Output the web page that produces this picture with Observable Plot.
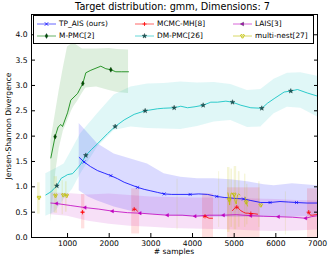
<!DOCTYPE html>
<html><head><meta charset="utf-8">
<script src="https://cdn.jsdelivr.net/npm/d3@7"></script>
<script src="https://cdn.jsdelivr.net/npm/@observablehq/plot@0.6"></script>
<style>
body{margin:0;background:#fff;}
#wrap{position:relative;width:332px;height:263px;font-family:"DejaVu Sans",sans-serif;color:#000;overflow:hidden;}
#wrap svg{position:absolute;left:0;top:0;}
.t{position:absolute;white-space:nowrap;}
#title{left:0;width:345px;text-align:center;top:1px;font-size:9.7px;}
#xlab{left:30px;width:288px;text-align:center;top:247px;font-size:7.6px;}
#ylab{left:8px;top:126px;font-size:7.6px;transform:translate(-50%,-50%) rotate(-90deg);}
#legend{position:absolute;left:33px;top:15px;width:279px;height:27px;border:1px solid #000;background:#fff;}
.le{position:absolute;font-size:7.4px;line-height:8px;}
</style></head><body><div id="wrap"></div>
<script>
// ---------------- data ----------------
const xTicks = [1000, 2000, 3000, 4000, 5000, 6000, 7000];
const yTicks = [0, 0.5, 1.0, 1.5, 2.0, 2.5, 3.0, 3.5, 4.0];

// TP_AIS (ours)
const tpX = [1280, 1398, 1550, 1720, 1880, 2040, 2200, 2360, 2520, 2680, 2840, 3000, 3160, 3319, 3500, 3700, 3943, 4150, 4360, 4583, 4760, 4900, 5050, 5224, 5400, 5639, 5862, 6100, 6300, 6496, 6750, 7000];
const tpY = [1.58, 1.49, 1.40, 1.32, 1.27, 1.22, 1.16, 1.09, 1.04, 0.99, 0.95, 0.92, 0.89, 0.86, 0.85, 0.85, 0.85, 0.86, 0.85, 0.81, 0.79, 0.78, 0.77, 0.76, 0.73, 0.69, 0.69, 0.71, 0.70, 0.69, 0.68, 0.68];
const tpMkX = [1398, 2040, 2680, 3319, 3943, 4583, 5224, 5862, 6496];
const tpMkY = [1.49, 1.22, 0.99, 0.86, 0.85, 0.81, 0.76, 0.69, 0.69];
const tpBandX = [1280, 1500, 1720, 2120, 2520, 2920, 3319, 3720, 4120, 4520, 4920, 5320, 5720, 5960, 6400, 7000];
const tpBandLo = [0.92, 0.80, 0.72, 0.60, 0.52, 0.46, 0.44, 0.42, 0.40, 0.40, 0.40, 0.40, 0.40, 0.40, 0.40, 0.42];
const tpBandHi = [2.25, 2.05, 1.85, 1.65, 1.55, 1.45, 1.26, 1.19, 1.16, 1.16, 1.14, 1.10, 1.04, 1.02, 1.06, 1.02];

// M-PMC[2]
const mpX = [599, 702, 774, 839, 880, 1000, 1079, 1240, 1367, 1439, 1559, 1799, 1919, 2039, 2159, 2300, 2464];
const mpY = [1.57, 1.99, 2.18, 2.23, 2.19, 2.46, 2.71, 2.84, 3.04, 3.25, 3.30, 3.38, 3.33, 3.31, 3.27, 3.27, 3.27];
const mpMkX = [702, 1367, 2039];
const mpMkY = [1.99, 3.04, 3.31];
const mpBandX = [599, 660, 720, 800, 900, 1000, 1100, 1150, 1250, 1360, 1440, 1700, 2000, 2200, 2464];
const mpBandLo = [0.30, 0.80, 1.30, 1.75, 2.10, 2.30, 2.50, 2.58, 2.70, 2.85, 2.95, 2.97, 2.90, 2.86, 2.84];
const mpBandHi = [1.90, 2.20, 2.50, 2.90, 3.35, 3.76, 3.82, 3.84, 3.78, 3.72, 3.72, 3.72, 3.73, 3.71, 3.70];

// MCMC-MH[8]
const mhSeg = [0, 0, 1, 1, 1, 1, 2, 2, 2, 2, 2, 3, 3, 3, 3, 3, 3, 3, 3, 3, 3, 3, 4, 4, 4, 4, 4, 4];
const mhX = [1330, 1390, 2560, 2600, 2640, 2680, 4263, 4300, 4340, 4400, 4480, 4960, 5000, 5063, 5110, 5159, 5220, 5279, 5340, 5399, 5480, 5560, 6760, 6790, 6830, 6880, 6950, 7000];
const mhY = [0.50, 0.50, 0.53, 0.56, 0.55, 0.52, 0.40, 0.42, 0.40, 0.38, 0.38, 0.53, 0.57, 0.60, 0.57, 0.53, 0.50, 0.48, 0.48, 0.47, 0.47, 0.46, 0.48, 0.50, 0.44, 0.44, 0.45, 0.46];
const mhMkX = [1360, 2600, 4300, 5063, 5400, 6790];
const mhMkY = [0.50, 0.56, 0.42, 0.60, 0.47, 0.50];
const mhBandX1 = [1336, 2540, 4240, 4840, 6760];
const mhBandX2 = [1415, 2730, 4504, 5623, 7000];
const mhBandLo = [0.17, 0.07, 0.0, 0.0, 0.0];
const mhBandHi = [0.85, 0.96, 0.86, 0.98, 0.96];

// DM-PMC[26]
const dmX = [479, 600, 743, 850, 918, 1000, 1120, 1220, 1319, 1439, 1580, 1720, 1960, 2143, 2360, 2600, 2863, 3160, 3300, 3559, 3719, 3879, 4060, 4255, 4439, 4600, 4800, 4960, 5159, 5399, 5663, 5800, 5959, 6199, 6359, 6520, 6760, 7000];
const dmY = [0.84, 0.90, 1.02, 1.17, 1.20, 1.24, 1.26, 1.35, 1.45, 1.62, 1.74, 1.85, 2.05, 2.19, 2.32, 2.43, 2.50, 2.54, 2.55, 2.56, 2.59, 2.56, 2.58, 2.61, 2.67, 2.67, 2.69, 2.67, 2.61, 2.56, 2.55, 2.65, 2.74, 2.87, 2.89, 2.92, 2.85, 2.79];
const dmMkX = [743, 1439, 2143, 2863, 3559, 4255, 4960, 5663, 6359];
const dmMkY = [1.02, 1.62, 2.19, 2.50, 2.56, 2.61, 2.67, 2.55, 2.89];
const dmBandX = [479, 700, 918, 1120, 1319, 1720, 2120, 2520, 2920, 3319, 3719, 4120, 4520, 4920, 5320, 5640, 5959, 6279, 6600, 7000];
const dmBandLo = [0.42, 0.50, 0.75, 0.95, 1.26, 1.78, 2.11, 2.18, 2.15, 2.14, 2.13, 2.19, 2.28, 2.31, 2.17, 2.18, 2.44, 2.57, 2.55, 2.38];
const dmBandHi = [1.26, 1.35, 1.45, 1.75, 2.05, 2.44, 2.81, 2.97, 3.03, 3.04, 3.07, 3.05, 3.06, 3.02, 2.90, 2.92, 3.12, 3.24, 3.25, 3.18];

// LAIS[3]
const laX = [599, 740, 1079, 1422, 1750, 2079, 2440, 2743, 3050, 3400, 3750, 4063, 4400, 4744, 5050, 5399, 5700, 6064, 6400, 6719, 6850, 7000];
const laY = [0.68, 0.67, 0.63, 0.59, 0.56, 0.52, 0.49, 0.48, 0.46, 0.44, 0.44, 0.42, 0.44, 0.44, 0.45, 0.43, 0.42, 0.41, 0.40, 0.38, 0.41, 0.43];
const laMkX = [740, 1422, 2079, 2743, 3400, 4063, 4744, 5399, 6064, 6719];
const laMkY = [0.67, 0.59, 0.52, 0.48, 0.44, 0.42, 0.44, 0.43, 0.41, 0.38];
const laBandX = [599, 1000, 1500, 2000, 2500, 3000, 3500, 4000, 4500, 5000, 5500, 6000, 6500, 7000];
const laBandLo = [0.45, 0.42, 0.32, 0.26, 0.22, 0.20, 0.18, 0.17, 0.16, 0.15, 0.13, 0.12, 0.13, 0.15];
const laBandHi = [0.88, 0.87, 0.84, 0.86, 0.83, 0.80, 0.79, 0.78, 0.78, 0.77, 0.76, 0.75, 0.73, 0.72];

// multi-nest[27]
const mnSeg = [0, 0, 1, 1, 2, 2, 3, 3, 4, 4, 4, 4, 4, 4, 4, 4, 4, 4, 4, 4, 5, 5, 5, 6, 6];
const mnX = [300, 330, 690, 730, 880, 920, 960, 1000, 4850, 4870, 4890, 4910, 4930, 4960, 4990, 5020, 5050, 5080, 5110, 5140, 5260, 5290, 5320, 5620, 5660];
const mnY = [0.80, 0.78, 0.84, 0.82, 0.84, 0.84, 0.83, 0.83, 0.88, 0.80, 0.64, 0.82, 0.88, 0.86, 0.85, 0.72, 0.66, 0.84, 0.86, 0.84, 0.80, 0.70, 0.62, 0.65, 0.63];
const mnMkX = [315, 710, 900, 980, 4880, 5000, 5290, 5640];
const mnMkY = [0.79, 0.83, 0.84, 0.83, 0.75, 0.85, 0.70, 0.64];
const mnBandX1 = [280, 680, 870, 950, 3630, 4630, 4840, 4920, 5000, 5100, 5250, 5300, 5590, 6230];
const mnBandX2 = [343, 760, 900, 990, 3650, 4650, 4900, 4960, 5060, 5140, 5280, 5330, 5620, 6250];
const mnBandLo = [0.46, 0.48, 0.45, 0.50, 0.15, 0.20, 0.10, 0.20, 0.15, 0.20, 0.20, 0.25, 0.20, 0.05];
const mnBandHi = [1.08, 1.20, 1.12, 1.10, 1.15, 1.30, 1.38, 1.35, 1.40, 1.30, 1.25, 1.05, 1.10, 0.90];

const legendNames = ["TP_AIS (ours)", "M-PMC[2]", "MCMC-MH[8]", "DM-PMC[26]", "LAIS[3]", "multi-nest[27]"];

// ---------------- styles ----------------
const COL = {tp: "#0000ff", mp: "#008000", mh: "#ff0000", dm: "#00bfbf", la: "#bf00bf", mn: "#bfbf00"};
const pts = (xs, ys, seg) => xs.map((x, i) => ({x, y: ys[i], s: seg ? seg[i] : 0}));
const band = (xs, lo, hi) => xs.map((x, i) => ({x, lo: lo[i], hi: hi[i]}));
const rects = (x1, x2, lo, hi) => x1.map((a, i) => ({x1: a, x2: x2[i], lo: lo[i], hi: hi[i]}));

const LW = 1, LO = 0.8;
const lineOpts = (c) => ({x: "x", y: "y", z: "s", stroke: c, strokeWidth: LW, strokeOpacity: LO, clip: true});
const bandOpts = (c, o) => ({x: "x", y1: "lo", y2: "hi", fill: c, fillOpacity: o, clip: true});
const rectOpts = (c, o) => ({x1: "x1", x2: "x2", y1: "lo", y2: "hi", fill: c, fillOpacity: o, clip: true});

const chart = Plot.plot({
  width: 332, height: 263,
  marginLeft: 31, marginRight: 15, marginTop: 14, marginBottom: 26,
  style: {fontFamily: "DejaVu Sans", fontSize: "7.6px", background: "transparent", color: "#000"},
  x: {domain: [135, 7000]},
  y: {domain: [0, 4.4]},
  marks: [
    Plot.areaY(band(mpBandX, mpBandLo, mpBandHi), bandOpts(COL.mp, 0.13)),
    Plot.areaY(band(dmBandX, dmBandLo, dmBandHi), bandOpts(COL.dm, 0.12)),
    Plot.areaY(band(tpBandX, tpBandLo, tpBandHi), bandOpts(COL.tp, 0.14)),
    Plot.areaY(band(laBandX, laBandLo, laBandHi), bandOpts(COL.la, 0.12)),
    Plot.rect(rects(mhBandX1, mhBandX2, mhBandLo, mhBandHi), rectOpts(COL.mh, 0.12)),
    Plot.rect(rects(mnBandX1, mnBandX2, mnBandLo, mnBandHi), rectOpts(COL.mn, 0.16)),
    Plot.line(pts(mpX, mpY), lineOpts(COL.mp)),
    Plot.line(pts(dmX, dmY), lineOpts(COL.dm)),
    Plot.line(pts(tpX, tpY), lineOpts(COL.tp)),
    Plot.line(pts(laX, laY), lineOpts(COL.la)),
    Plot.line(pts(mhX, mhY, mhSeg), lineOpts(COL.mh)),
    Plot.line(pts(mnX, mnY, mnSeg), lineOpts(COL.mn)),
    Plot.dot(pts(mpMkX, mpMkY), {x: "x", y: "y", symbol: "diamond", r: 1.5, fill: "#005000", stroke: "#003000", strokeWidth: 0.4}),
    Plot.dot(pts(dmMkX, dmMkY), {x: "x", y: "y", symbol: "star", r: 1.5, fill: "#1b5a5a", stroke: "#103030", strokeWidth: 0.4}),
    Plot.dot(pts(tpMkX, tpMkY), {x: "x", y: "y", symbol: "times", r: 1.5, stroke: COL.tp, strokeWidth: 0.8, strokeOpacity: 0.85}),
    Plot.dot(pts(laMkX, laMkY), {x: "x", y: "y", symbol: "triangle", rotate: -90, r: 1.3, fill: COL.la, stroke: COL.la, strokeWidth: 0.4}),
    Plot.dot(pts(mhMkX, mhMkY), {x: "x", y: "y", symbol: "plus", r: 1.5, stroke: COL.mh, strokeWidth: 0.8}),
    Plot.dot(pts(mnMkX, mnMkY), {x: "x", y: "y", symbol: "wye", r: 1.5, stroke: COL.mn, strokeWidth: 0.8}),
    Plot.frame({stroke: "#000", strokeWidth: 1}),
    Plot.axisX({anchor: "bottom", ticks: xTicks, tickSize: -4, tickPadding: 7, tickFormat: d => String(d), label: null}),
    Plot.axisX({anchor: "top", ticks: xTicks, tickSize: -4, tickFormat: () => "", label: null}),
    Plot.axisY({anchor: "left", ticks: yTicks, tickSize: -4, tickPadding: 8, tickFormat: d3.format(".1f"), label: null}),
    Plot.axisY({anchor: "right", ticks: yTicks, tickSize: -4, tickFormat: () => "", label: null})
  ]
});

const wrap = document.getElementById("wrap");
wrap.appendChild(chart);

function addText(id, txt) {
  const d = document.createElement("div");
  d.className = "t"; d.id = id; d.textContent = txt;
  wrap.appendChild(d);
}
addText("title", "Target distribution: gmm, Dimensions: 7");
addText("xlab", "# samples");
addText("ylab", "Jensen-Shannon Divergence");

// legend (column-major, 3 columns x 2 rows)
const legendStyle = [
  {c: COL.tp, sym: d3.symbolTimes, fill: "none", rot: 0, size: 9},
  {c: COL.mp, sym: d3.symbolDiamond, fill: "#005000", rot: 0, size: 7},
  {c: COL.mh, sym: null, fill: "none", rot: 0},
  {c: COL.dm, sym: d3.symbolStar, fill: "#1b5a5a", rot: 0, size: 7},
  {c: COL.la, sym: d3.symbolTriangle, fill: COL.la, rot: -90, size: 6},
  {c: COL.mn, sym: d3.symbolWye, fill: "none", rot: 0, size: 8}
];
const leg = document.createElement("div");
leg.id = "legend";
wrap.appendChild(leg);
const colX = [3, 101, 199];
const rowY = [4, 16];
legendNames.forEach((name, i) => {
  const col = Math.floor(i / 2), row = i % 2;
  const st = legendStyle[i];
  const svg = d3.create("svg").attr("width", 20).attr("height", 8)
    .style("position", "absolute").style("left", colX[col] + "px").style("top", rowY[row] + "px");
  svg.append("line").attr("x1", 0).attr("x2", 19).attr("y1", 4).attr("y2", 4)
    .attr("stroke", st.c).attr("stroke-width", 1).attr("stroke-opacity", 0.6);
  const symPath = st.sym ? d3.symbol().type(st.sym).size(st.size)() : "M-2,0H2M0,-2V2";
  svg.append("path").attr("d", symPath)
    .attr("transform", `translate(9.5,4) rotate(${st.rot})`)
    .attr("fill", st.fill).attr("stroke", st.fill === "none" ? st.c : "#103030")
    .attr("stroke-width", st.fill === "none" ? 0.8 : 0.4);
  leg.appendChild(svg.node());
  const t = document.createElement("div");
  t.className = "le";
  t.textContent = name;
  t.style.left = (colX[col] + 22) + "px";
  t.style.top = rowY[row] + "px";
  leg.appendChild(t);
});
</script>
</body></html>
